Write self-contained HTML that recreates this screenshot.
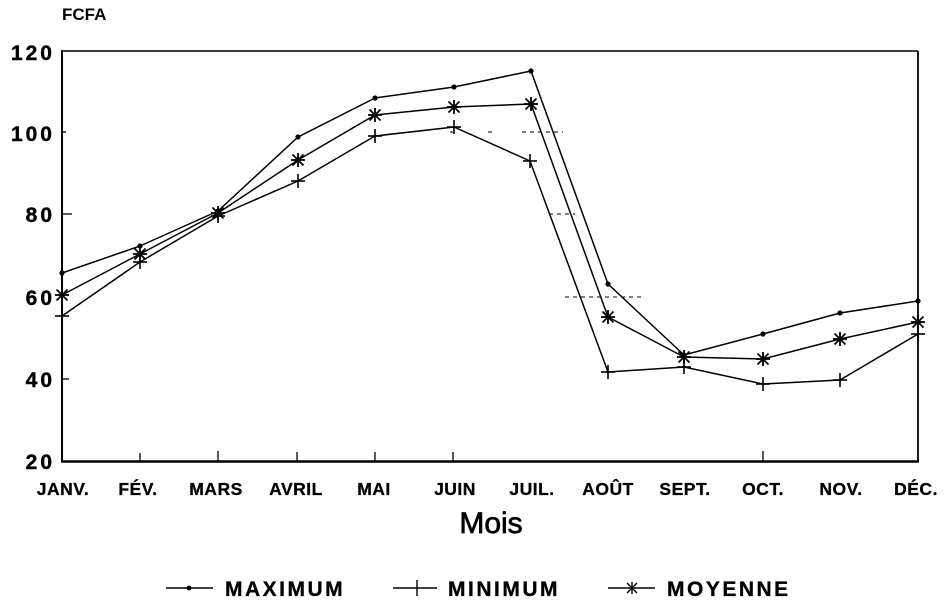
<!DOCTYPE html>
<html>
<head>
<meta charset="utf-8">
<style>
html,body{margin:0;padding:0;background:#fff;}
svg{display:block;}
text{font-family:"Liberation Sans",Arial,sans-serif;fill:#000;}
</style>
</head>
<body>
<svg width="946" height="608" viewBox="0 0 946 608" xmlns="http://www.w3.org/2000/svg">
<defs>
  <g id="dot"><circle r="2.6" fill="#000"/></g>
  <g id="plus" stroke="#000" stroke-width="1.6"><line x1="-7" y1="0" x2="7" y2="0"/><line x1="0" y1="-7" x2="0" y2="7"/></g>
  <g id="star" stroke="#000" stroke-width="1.8"><line x1="-7" y1="0" x2="7" y2="0"/><line x1="0" y1="-7" x2="0" y2="7"/><line x1="-5.5" y1="-5.5" x2="5.5" y2="5.5"/><line x1="-5.5" y1="5.5" x2="5.5" y2="-5.5"/><circle r="2.5" fill="#000" stroke="none"/></g>
</defs>

<!-- title -->
<text x="62" y="20" font-size="17" font-weight="bold">FCFA</text>

<!-- frame -->
<line x1="62" y1="51" x2="918" y2="51" stroke="#000" stroke-width="1.6"/>
<line x1="918" y1="51" x2="918" y2="462" stroke="#000" stroke-width="1.8"/>
<line x1="62" y1="50" x2="62" y2="462" stroke="#000" stroke-width="2"/>
<line x1="61" y1="461.5" x2="919" y2="461.5" stroke="#000" stroke-width="2.5"/>

<!-- left ticks -->
<g stroke="#000" stroke-width="1.3">
  <line x1="62" y1="132" x2="66" y2="132"/>
  <line x1="62" y1="214" x2="72" y2="214"/>
  <line x1="62" y1="379" x2="69" y2="379"/>
</g>
<!-- bottom ticks -->
<g stroke="#000" stroke-width="1.3">
  <line x1="140" y1="453" x2="140" y2="461"/>
  <line x1="218" y1="451" x2="218" y2="461"/>
  <line x1="297" y1="452" x2="297" y2="461"/>
  <line x1="375" y1="452" x2="375" y2="461"/>
  <line x1="453" y1="452" x2="453" y2="461"/>
  <line x1="763" y1="451" x2="763" y2="461"/>
</g>

<!-- faint grid fragments -->
<g stroke="#000" stroke-width="1" stroke-dasharray="4,4">
  <line x1="488" y1="132" x2="492" y2="132"/>
  <line x1="522" y1="132" x2="563" y2="132"/>
  <line x1="565" y1="297" x2="642" y2="297"/>
  <line x1="549" y1="214" x2="575" y2="214"/>
  <line x1="450" y1="132" x2="458" y2="132"/>
</g>

<!-- y labels -->
<g font-size="21" font-weight="bold" text-anchor="end" letter-spacing="3" stroke="#000" stroke-width="0.4">
  <text x="55" y="60">120</text>
  <text x="55" y="141">100</text>
  <text x="55" y="222">80</text>
  <text x="55" y="305">60</text>
  <text x="55" y="387">40</text>
  <text x="55" y="469">20</text>
</g>

<!-- x labels -->
<g font-size="17.5" font-weight="bold" text-anchor="middle" letter-spacing="0.5" stroke="#000" stroke-width="0.3">
  <text x="63" y="495">JANV.</text>
  <text x="138" y="495">FÉV.</text>
  <text x="216" y="495">MARS</text>
  <text x="296" y="495">AVRIL</text>
  <text x="374" y="495">MAI</text>
  <text x="455" y="495">JUIN</text>
  <text x="532" y="495">JUIL.</text>
  <text x="608" y="495">AOÛT</text>
  <text x="685" y="495">SEPT.</text>
  <text x="763" y="495">OCT.</text>
  <text x="841" y="495">NOV.</text>
  <text x="916" y="495">DÉC.</text>
</g>

<text x="491" y="533" font-size="30" text-anchor="middle" stroke="#000" stroke-width="0.7">Mois</text>

<!-- series -->
<g fill="none" stroke="#000" stroke-width="1.5" stroke-linejoin="round">
  <polyline points="62,273 140,246 218,211 298,137 375,98 454,87 531,71 608,284 684,355 763,334 840,313 918,301"/>
  <polyline points="62,316 140,262 218,216 298,181 375,136 454,127 530,161 608,372 684,367 763,384 840,380 918,334"/>
  <polyline points="62,295 140,254 218,213 298,160 375,115 454,107 531,104 608,317 684,357 763,359 840,339 918,322"/>
</g>

<!-- markers max -->
<g>
  <use href="#dot" x="62" y="273"/><use href="#dot" x="140" y="246"/><use href="#dot" x="218" y="211"/>
  <use href="#dot" x="298" y="137"/><use href="#dot" x="375" y="98"/><use href="#dot" x="454" y="87"/>
  <use href="#dot" x="531" y="71"/><use href="#dot" x="608" y="284"/><use href="#dot" x="684" y="355"/>
  <use href="#dot" x="763" y="334"/><use href="#dot" x="840" y="313"/><use href="#dot" x="918" y="301"/>
</g>
<!-- markers min -->
<g>
  <use href="#plus" x="62" y="316"/><use href="#plus" x="140" y="262"/><use href="#plus" x="218" y="216"/>
  <use href="#plus" x="298" y="181"/><use href="#plus" x="375" y="136"/><use href="#plus" x="454" y="127"/>
  <use href="#plus" x="530" y="161"/><use href="#plus" x="608" y="372"/><use href="#plus" x="684" y="367"/>
  <use href="#plus" x="763" y="384"/><use href="#plus" x="840" y="380"/><use href="#plus" x="918" y="334"/>
</g>
<!-- markers mean -->
<g>
  <use href="#star" x="62" y="295"/><use href="#star" x="140" y="254"/><use href="#star" x="218" y="213"/>
  <use href="#star" x="298" y="160"/><use href="#star" x="375" y="115"/><use href="#star" x="454" y="107"/>
  <use href="#star" x="531" y="104"/><use href="#star" x="608" y="317"/><use href="#star" x="684" y="357"/>
  <use href="#star" x="763" y="359"/><use href="#star" x="840" y="339"/><use href="#star" x="918" y="322"/>
</g>

<!-- legend -->
<g stroke="#000" stroke-width="1.4">
  <line x1="166" y1="588" x2="213" y2="588"/>
  <line x1="393" y1="588" x2="437" y2="588"/>
  <line x1="608" y1="588" x2="655" y2="588"/>
</g>
<circle cx="189" cy="588" r="2.4" fill="#000"/>
<g stroke="#000" stroke-width="1.4"><line x1="417" y1="580" x2="417" y2="596"/></g>
<g stroke="#000" stroke-width="1.4">
  <line x1="632" y1="582" x2="632" y2="594"/>
  <line x1="627" y1="583" x2="637" y2="593"/>
  <line x1="627" y1="593" x2="637" y2="583"/>
</g>
<g font-size="21" font-weight="bold" letter-spacing="2.5" stroke="#000" stroke-width="0.3">
  <text x="225" y="596">MAXIMUM</text>
  <text x="448" y="596">MINIMUM</text>
  <text x="667" y="596">MOYENNE</text>
</g>
</svg>
</body>
</html>
